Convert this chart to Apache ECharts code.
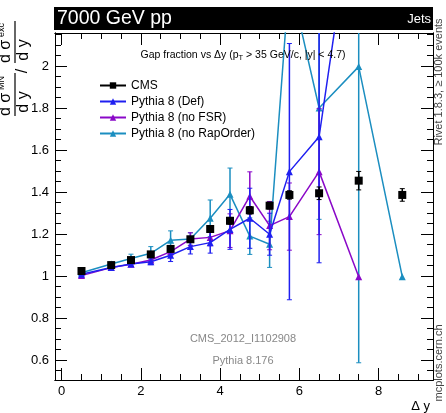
<!DOCTYPE html>
<html><head><meta charset="utf-8">
<script src="https://cdn.jsdelivr.net/npm/echarts@6/dist/echarts.min.js"></script>
<style>html,body{margin:0;padding:0;background:#fff}#c{width:446px;height:413px}</style>
</head><body><div id="c"></div>
<script>
// ---- data ----
const xVals = [0.5, 1.25, 1.75, 2.25, 2.75, 3.25, 3.75, 4.25, 4.75, 5.25, 5.75, 6.5, 7.5, 8.6];
const cmsVals = [1.024, 1.052, 1.076, 1.103, 1.129, 1.175, 1.224, 1.263, 1.313, 1.335, 1.386, 1.394, 1.454, 1.386];
const cmsErr  = [0.008, 0.007, 0.008, 0.009, 0.010, 0.012, 0.014, 0.016, 0.018, 0.016, 0.020, 0.030, 0.044, 0.030];
const defVals = [1.008, 1.041, 1.057, 1.068, 1.099, 1.140, 1.159, 1.222, 1.275, 1.199, 1.497, 1.663, 2.96, null];
const defErr  = [0.006, 0.010, 0.012, 0.014, 0.030, 0.035, 0.050, 0.095, 0.143, 0.100, 0.610, 0.600, 0.50, null];
const nofsrVals = [1.002, 1.040, 1.056, 1.076, 1.116, 1.176, 1.184, 1.216, 1.380, 1.240, 1.283, 1.497, 0.997, null];
const nofsrErr  = [0.005, 0.008, 0.010, 0.012, 0.020, 0.030, 0.040, 0.080, 0.116, 0.115, 0.160, 0.300, 0.0, null];
const norapVals = [1.016, 1.057, 1.083, 1.108, 1.170, 1.176, 1.275, 1.389, 1.190, 1.151, 2.42, 1.800, 1.997, 0.997];
const norapErr  = [0.008, 0.010, 0.021, 0.032, 0.045, 0.030, 0.087, 0.125, 0.087, 0.110, 0.20, 0.530, 1.410, 0.0];
const xMajor = [0, 2, 4, 6, 8];
const xMinor = [0.5, 1, 1.5, 2, 2.5, 3, 3.5, 4, 4.5, 5, 5.5, 6, 6.5, 7, 7.5, 8, 8.5, 9];
const yMajor = [0.6, 0.8, 1.0, 1.2, 1.4, 1.6, 1.8, 2.0];
const yMinor = [0.55, 0.6, 0.65, 0.7, 0.75, 0.8, 0.85, 0.9, 0.95, 1.0, 1.05, 1.1, 1.15, 1.2, 1.25, 1.3, 1.35, 1.4, 1.45, 1.5, 1.55, 1.6, 1.65, 1.7, 1.75, 1.8, 1.85, 1.9, 1.95, 2.0, 2.05, 2.1, 2.15];

const C_CMS = '#000000', C_DEF = '#1f1ff0', C_FSR = '#8a08c8', C_RAP = '#1b8ec0';
const FONT = 'Liberation Sans, Arial, sans-serif';
const XMIN = -0.169, XMAX = 9.376, YMIN = 0.505, YMAX = 2.157;

function pts(vals) { return xVals.map((x, i) => vals[i] == null ? [x, null] : [x, vals[i]]); }
function errData(vals, errs) {
  const out = [];
  xVals.forEach((x, i) => { if (vals[i] != null && errs[i] > 0) out.push([x, vals[i] - errs[i], vals[i] + errs[i]]); });
  return out;
}
function errSeries(color, vals, errs, z) {
  return {
    type: 'custom', clip: true, silent: true, z: z,
    xAxisIndex: 0, yAxisIndex: 0,
    encode: { x: 0, y: [1, 2] },
    data: errData(vals, errs),
    renderItem: function (params, api) {
      const x = api.value(0), lo = api.value(1), hi = api.value(2);
      const p1 = api.coord([x, lo]), p2 = api.coord([x, hi]);
      const cw = 2.5;
      return { type: 'group', children: [
        { type: 'line', shape: { x1: p1[0], y1: p1[1], x2: p2[0], y2: p2[1] }, style: { stroke: color, lineWidth: 1.5 } },
        { type: 'line', shape: { x1: p1[0] - cw, y1: p1[1], x2: p1[0] + cw, y2: p1[1] }, style: { stroke: color, lineWidth: 1 } },
        { type: 'line', shape: { x1: p2[0] - cw, y1: p2[1], x2: p2[0] + cw, y2: p2[1] }, style: { stroke: color, lineWidth: 1 } }
      ] };
    }
  };
}
function lineSeries(name, color, vals, symbol, size, z, showLine) {
  return {
    type: 'line', name: name, data: pts(vals), xAxisIndex: 0, yAxisIndex: 0,
    symbol: symbol, symbolSize: size, showAllSymbol: true, connectNulls: false, clip: true,
    z: z, animation: false,
    itemStyle: { color: color },
    lineStyle: { color: color, width: 1.5, opacity: showLine ? 1 : 0 }
  };
}

function xAx(pos, ticks, len, labels) {
  return {
    type: 'value', min: XMIN, max: XMAX, position: pos,
    axisLine: { show: true, onZero: false, lineStyle: { color: '#000', width: 1 } },
    axisTick: { show: true, inside: true, length: len, customValues: ticks, lineStyle: { color: '#000', width: 1 } },
    axisLabel: labels ? { show: true, customValues: ticks, fontSize: 13, color: '#000', fontFamily: FONT, margin: 5 } : { show: false },
    splitLine: { show: false }
  };
}
function yAx(pos, ticks, len, labels) {
  return {
    type: 'value', min: YMIN, max: YMAX, position: pos,
    axisLine: { show: true, onZero: false, lineStyle: { color: '#000', width: 1 } },
    axisTick: { show: true, inside: true, length: len, customValues: ticks, lineStyle: { color: '#000', width: 1 } },
    axisLabel: labels ? { show: true, customValues: ticks, fontSize: 13, color: '#000', fontFamily: FONT, margin: 6,
      formatter: v => String(Math.round(v * 10) / 10) } : { show: false },
    splitLine: { show: false }
  };
}

const chart = echarts.init(document.getElementById('c'), null, { renderer: 'canvas' });
const option = {
  animation: false,
  backgroundColor: '#fff',
  grid: { left: 55, right: 13, top: 33, bottom: 33, containLabel: false },
  xAxis: [xAx('bottom', xMajor, 12, true), xAx('bottom', xMinor, 6, false), xAx('top', xMajor, 12, false), xAx('top', xMinor, 6, false)],
  yAxis: [yAx('left', yMajor, 12, true), yAx('left', yMinor, 6, false), yAx('right', yMajor, 12, false), yAx('right', yMinor, 6, false)],
  legend: {
    orient: 'vertical', left: 94, top: 74, itemWidth: 26, itemHeight: 8, itemGap: 3,
    textStyle: { fontSize: 12, color: '#000', fontFamily: FONT, lineHeight: 13 },
    lineStyle: { opacity: 1 },
    data: ['CMS', 'Pythia 8 (Def)', 'Pythia 8 (no FSR)', 'Pythia 8 (no RapOrder)'],
    selectedMode: false
  },
  series: [
    errSeries(C_RAP, norapVals, norapErr, 2),
    lineSeries('Pythia 8 (no RapOrder)', C_RAP, norapVals, 'triangle', 7, 3, true),
    errSeries(C_FSR, nofsrVals, nofsrErr, 4),
    lineSeries('Pythia 8 (no FSR)', C_FSR, nofsrVals, 'triangle', 7, 5, true),
    errSeries(C_DEF, defVals, defErr, 6),
    lineSeries('Pythia 8 (Def)', C_DEF, defVals, 'triangle', 7, 7, true),
    errSeries(C_CMS, cmsVals, cmsErr, 8),
    lineSeries('CMS', C_CMS, cmsVals, 'rect', 8, 9, false)
  ],
  graphic: [
    { type: 'rect', shape: { x: 54, y: 7, width: 379, height: 23 }, style: { fill: '#000' }, z: 100 },
    { type: 'text', x: 57, y: 18.5, z: 101, style: { text: '7000 GeV pp', fill: '#fff', font: '19.5px ' + FONT, textVerticalAlign: 'middle' } },
    { type: 'text', x: 431, y: 19.5, z: 101, style: { text: 'Jets', fill: '#fff', font: '13px ' + FONT, textAlign: 'right', textVerticalAlign: 'middle' } },
    { type: 'text', x: 243, y: 55, z: 101, style: {
        text: '{a|Gap fraction vs Δy (p}{b|T}{a| > 35 GeV/c, |y| < 4.7)}',
        textAlign: 'center', textVerticalAlign: 'middle',
        rich: { a: { fontSize: 10.5, fontFamily: FONT, fill: '#000' }, b: { fontSize: 7.5, fontFamily: FONT, fill: '#000', padding: [6, 0, 0, 0] } } } },
    { type: 'text', x: 243, y: 339, z: 101, style: { text: 'CMS_2012_I1102908', fill: '#888', font: '11px ' + FONT, textAlign: 'center', textVerticalAlign: 'middle' } },
    { type: 'text', x: 243, y: 361, z: 101, style: { text: 'Pythia 8.176', fill: '#888', font: '11px ' + FONT, textAlign: 'center', textVerticalAlign: 'middle' } },
    { type: 'text', x: 430, y: 406, z: 101, style: { text: 'Δ y', fill: '#000', font: '13px ' + FONT, textAlign: 'right', textVerticalAlign: 'middle' } },
    { type: 'text', x: 439, y: 82, rotation: Math.PI / 2, z: 101, style: { text: 'Rivet 1.8.3, ≥ 100k events', fill: '#444', font: '11px ' + FONT, textAlign: 'center', textVerticalAlign: 'middle' } },
    { type: 'text', x: 439, y: 363, rotation: Math.PI / 2, z: 101, style: { text: 'mcplots.cern.ch', fill: '#444', font: '11px ' + FONT, textAlign: 'center', textVerticalAlign: 'middle' } },
    // y-axis title: dσ^MN/dy / dσ^exc/dy, rotated
    { type: 'group', x: 15, y: 116, rotation: Math.PI / 2, z: 101, children: [
        { type: 'text', x: 0, y: -1, style: { text: 'd σ', fill: '#000', font: '16px ' + FONT, textVerticalAlign: 'bottom' } },
        { type: 'text', x: 26, y: -9, style: { text: 'MN', fill: '#000', font: '9px ' + FONT, textVerticalAlign: 'bottom' } },
        { type: 'line', shape: { x1: 0, y1: 0, x2: 43, y2: 0 }, style: { stroke: '#000', lineWidth: 1.2 } },
        { type: 'text', x: 14, y: 1, style: { text: 'd y', fill: '#000', font: '16px ' + FONT, textAlign: 'center', textVerticalAlign: 'top' } },
        { type: 'text', x: 45, y: 8, style: { text: '/', fill: '#000', font: '16px ' + FONT, textAlign: 'center', textVerticalAlign: 'middle' } },
        { type: 'text', x: 53, y: -1, style: { text: 'd σ', fill: '#000', font: '16px ' + FONT, textVerticalAlign: 'bottom' } },
        { type: 'text', x: 79, y: -9, style: { text: 'exc', fill: '#000', font: '9px ' + FONT, textVerticalAlign: 'bottom' } },
        { type: 'line', shape: { x1: 53, y1: 0, x2: 95, y2: 0 }, style: { stroke: '#000', lineWidth: 1.2 } },
        { type: 'text', x: 66, y: 1, style: { text: 'd y', fill: '#000', font: '16px ' + FONT, textAlign: 'center', textVerticalAlign: 'top' } }
    ] }
  ]
};
chart.setOption(option);
</script></body></html>
